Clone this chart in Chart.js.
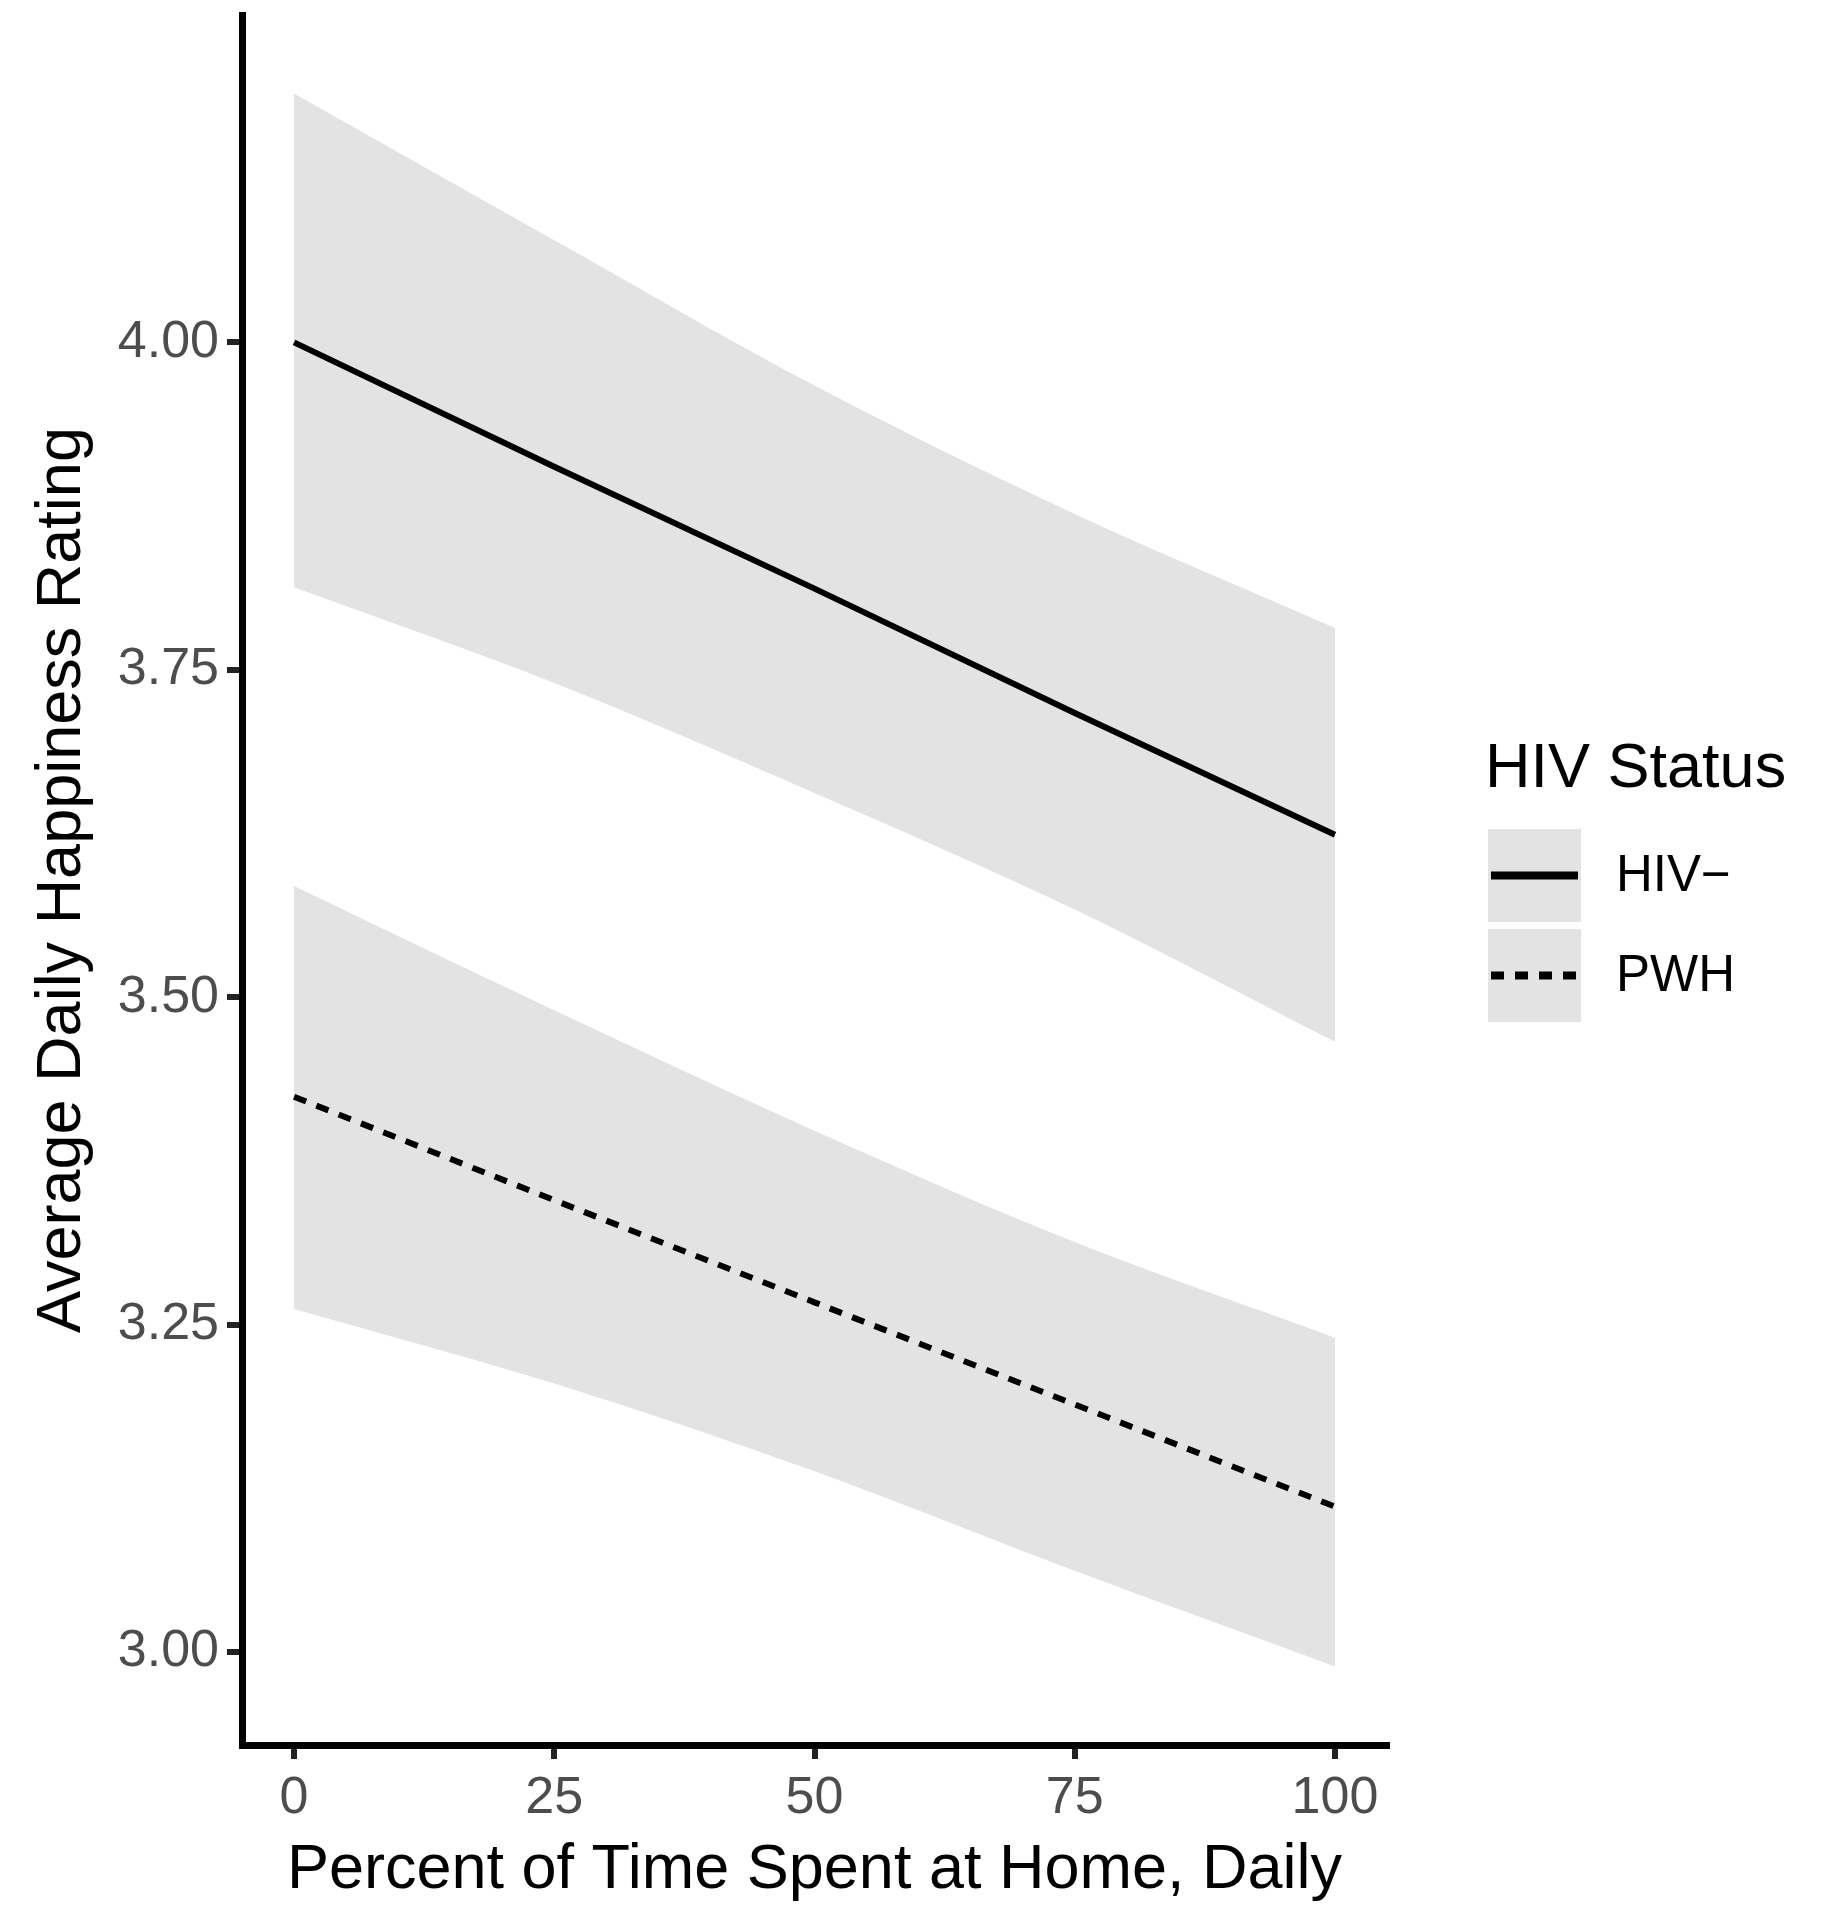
<!DOCTYPE html>
<html lang="en">
<head>
    <meta charset="UTF-8">
    <title>Average Daily Happiness Rating</title>
    <script src="https://cdn.jsdelivr.net/npm/chart.js"></script>
    <style>
        body {
            margin: 0;
            background-color: #ffffff;
        }

        .chart-box {
            width: 1822px;
            height: 1920px;
        }
    </style>
</head>
<body>
    <div class="chart-box">
        <canvas id="grafico"></canvas>
    </div>

    <script>
        // valores
        const xValues = [0, 25, 50, 75, 100];
        const seriesNames = ["HIV\u2212", "PWH"];
        const hivNegFit = [4.000, 3.905, 3.812, 3.717, 3.624];
        const hivNegUpper = [4.190, 4.078, 3.967, 3.869, 3.782];
        const hivNegLower = [3.813, 3.740, 3.656, 3.567, 3.466];
        const pwhFit = [3.424, 3.345, 3.267, 3.189, 3.111];
        const pwhUpper = [3.585, 3.490, 3.398, 3.313, 3.240];
        const pwhLower = [3.262, 3.205, 3.138, 3.062, 2.989];
        const xTicks = [0, 25, 50, 75, 100];
        const yTicks = [3.00, 3.25, 3.50, 3.75, 4.00];
        const xTitle = "Percent of Time Spent at Home, Daily";
        const yTitle = "Average Daily Happiness Rating";
        const legendTitle = "HIV Status";

        const FONT = '"Liberation Sans", Arial, sans-serif';
        const ribbonColor = "#e3e3e3";
        const dashPattern = [13, 11];

        function pts(ys) {
            return xValues.map((x, i) => ({ x: x, y: ys[i] }));
        }

        function ribbon(upper, lower) {
            return [
                { data: pts(upper), fill: "+1", backgroundColor: ribbonColor, borderWidth: 0, pointRadius: 0, cubicInterpolationMode: "monotone", order: 2 },
                { data: pts(lower), fill: false, borderWidth: 0, pointRadius: 0, cubicInterpolationMode: "monotone", order: 2 }
            ];
        }

        // legenda no estilo do ggplot (caixas cinza com a linha por cima)
        const legendaPlugin = {
            id: "legenda",
            afterDraw(chart) {
                const ctx = chart.ctx;
                ctx.save();
                ctx.fillStyle = "#000";
                ctx.font = "63px " + FONT;
                ctx.textBaseline = "alphabetic";
                ctx.textAlign = "left";
                ctx.fillText(legendTitle, 1485, 787);

                const keys = [{ y: 829, dash: [] }, { y: 929, dash: dashPattern }];
                keys.forEach((k, i) => {
                    ctx.fillStyle = ribbonColor;
                    ctx.fillRect(1488, k.y, 93, 93);
                    ctx.strokeStyle = "#000";
                    ctx.lineWidth = 8;
                    ctx.setLineDash(k.dash);
                    ctx.beginPath();
                    ctx.moveTo(1491, k.y + 46.5);
                    ctx.lineTo(1578, k.y + 46.5);
                    ctx.stroke();
                    ctx.setLineDash([]);
                    ctx.fillStyle = "#000";
                    ctx.font = "51px " + FONT;
                    ctx.textBaseline = "middle";
                    ctx.fillText(seriesNames[i], 1616, k.y + 48);
                });
                ctx.restore();
            }
        };

        const ctx = document.getElementById("grafico").getContext("2d");
        const chart = new Chart(ctx, {
            type: "line",
            data: {
                datasets: [
                    { label: seriesNames[0], data: pts(hivNegFit), borderColor: "#000", borderWidth: 6, pointRadius: 0, fill: false, order: 0 },
                    { label: seriesNames[1], data: pts(pwhFit), borderColor: "#000", borderWidth: 6, borderDash: dashPattern, pointRadius: 0, fill: false, order: 0 },
                    ...ribbon(hivNegUpper, hivNegLower),
                    ...ribbon(pwhUpper, pwhLower)
                ]
            },
            options: {
                responsive: true,
                maintainAspectRatio: false,
                animation: false,
                layout: { padding: { left: 0, top: 15, right: 435, bottom: 0 } },
                plugins: {
                    legend: { display: false },
                    tooltip: { enabled: false }
                },
                scales: {
                    x: {
                        type: "linear",
                        min: -5,
                        max: 105,
                        afterBuildTicks: s => { s.ticks = xTicks.map(v => ({ value: v })); },
                        afterFit: s => { s.height = 175; s.paddingLeft = 0; s.paddingRight = 0; },
                        grid: { drawOnChartArea: false, tickLength: 14, lineWidth: 6, color: "#222" },
                        border: { display: true, color: "#000", width: 7 },
                        ticks: { color: "#4d4d4d", font: { family: FONT, size: 52 }, padding: 8, maxRotation: 0 },
                        title: { display: true, text: xTitle, color: "#000", font: { family: FONT, size: 63 }, padding: { top: 0, bottom: 12 } }
                    },
                    y: {
                        type: "linear",
                        min: 2.929,
                        max: 4.25,
                        afterBuildTicks: s => { s.ticks = yTicks.map(v => ({ value: v })); },
                        afterFit: s => { s.width = 242; s.paddingTop = 0; s.paddingBottom = 0; },
                        grid: { drawOnChartArea: false, tickLength: 15, lineWidth: 6, color: "#222" },
                        border: { display: true, color: "#000", width: 7 },
                        ticks: { color: "#4d4d4d", font: { family: FONT, size: 52 }, padding: 8, callback: v => Number(v).toFixed(2) },
                        title: { display: true, text: yTitle, color: "#000", font: { family: FONT, size: 63 }, padding: { top: 25, bottom: 0 } }
                    }
                }
            },
            plugins: [legendaPlugin]
        });
    </script>
</body>
</html>
